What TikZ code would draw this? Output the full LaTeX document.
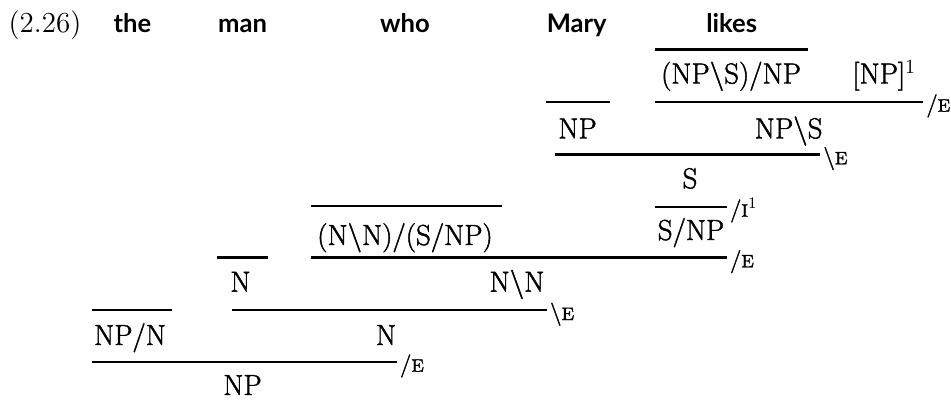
\documentclass[tikz,border=0pt]{standalone}
\usepackage{fontspec}
\newfontfamily\wordfont{Lato}
\newfontfamily\catfont{Latin Modern Roman}[FakeBold=1.5]
\newcommand{\rl}[1]{{\fontsize{9}{10}\selectfont #1}}
\begin{document}
\begin{tikzpicture}[x=0.5pt,y=-0.5pt,
  cat/.style={inner sep=0pt, anchor=base, font=\catfont\fontsize{14.5}{17}\selectfont},
  word/.style={inner sep=0pt, anchor=base, font=\wordfont\bfseries\fontsize{12.8}{15}\selectfont},
  rulelab/.style={inner sep=0pt, anchor=base west, xshift=1.5pt, yshift=-5pt, font=\catfont\fontsize{11.5}{14}\selectfont},
  bar/.style={line width=1.2pt}]
\useasboundingbox (0,0) rectangle (951,403);
% example number and words
\node[inner sep=0pt, anchor=base, font=\fontsize{14.5}{17}\selectfont] (ex) at (45,32) {(2.26)};
\node[word] (wthe) at (132.5,32) {the};
\node[word] (wman) at (242.5,32) {man};
\node[word] (wwho) at (405,32) {who};
\node[word] (wmary) at (576.7,32) {Mary};
\node[word] (wlikes) at (731.7,32) {likes};
% categories
\node[cat] (tv) at (731,83.5) {(NP\textbackslash S)/NP};
\node[cat, anchor=base west] (hyp) at (852,83.5) {[NP]$^1$};
\node[cat] (npm) at (577.5,138.3) {NP};
\node[cat] (vp) at (788.7,138.3) {NP\textbackslash S};
\node[cat] (s) at (690,188.3) {S};
\node[cat] (snp) at (691,240) {S/NP};
\node[cat] (rel) at (405,245) {(N\textbackslash N)/(S/NP)};
\node[cat] (nman) at (240.5,291.7) {N};
\node[cat] (nn) at (517,291.7) {N\textbackslash N};
\node[cat] (det) at (130,345) {NP/N};
\node[cat] (n2) at (386,345) {N};
\node[cat] (np) at (242.5,395) {NP};
% inference lines
\coordinate (a1) at (655,49.3);   \coordinate (a2) at (808.3,49.3);
\coordinate (b1) at (546,101.7);  \coordinate (b2) at (610,101.7);
\coordinate (c1) at (655,101.7);  \coordinate (c2) at (923,101.7);
\coordinate (d1) at (555,154.3);  \coordinate (d2) at (820,154.3);
\coordinate (e1) at (655,206.7);  \coordinate (e2) at (726.7,206.7);
\coordinate (f1) at (310.7,206);  \coordinate (f2) at (501.7,206);
\coordinate (g1) at (310.7,257.3);\coordinate (g2) at (726.7,257.3);
\coordinate (h1) at (216.7,257.3);\coordinate (h2) at (268.3,257.3);
\coordinate (i1) at (231.7,310);  \coordinate (i2) at (546.7,310);
\coordinate (j1) at (92.3,310);   \coordinate (j2) at (171.7,310);
\coordinate (k1) at (92.3,361.7); \coordinate (k2) at (396.7,361.7);
\foreach \p in {a,b,c,d,e,f,g,h,i,j,k} {\draw[bar] (\p1) -- (\p2);}
% rule labels
\node[rulelab] (lc) at (c2) {/\rl{E}};
\node[rulelab] (ld) at (d2) {\textbackslash\rl{E}};
\node[rulelab] (le) at (e2) {/\rl{I}$^1$};
\node[rulelab] (lg) at (g2) {/\rl{E}};
\node[rulelab] (li) at (i2) {\textbackslash\rl{E}};
\node[rulelab] (lk) at (k2) {/\rl{E}};
\end{tikzpicture}
\end{document}
